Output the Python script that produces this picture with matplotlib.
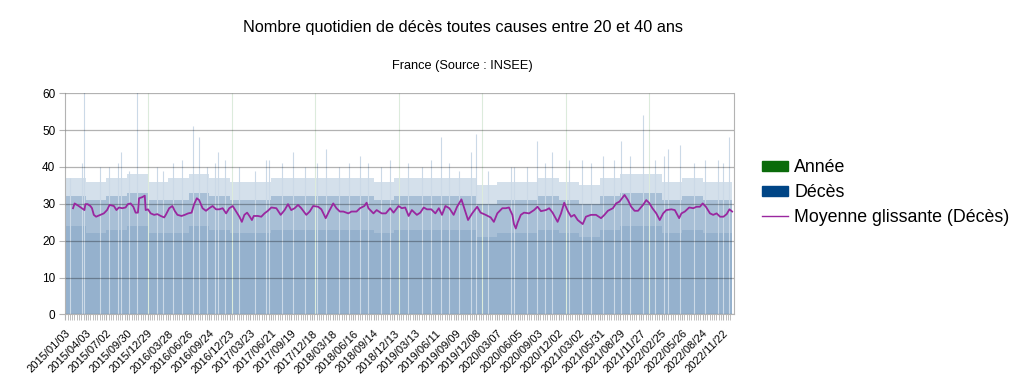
import numpy as np
import matplotlib.pyplot as plt
from matplotlib.patches import Patch
from matplotlib.lines import Line2D

plt.rcParams['font.family'] = ['Liberation Sans', 'DejaVu Sans']

# axe des x : jours depuis le 2015/01/03 (dernier jour 2022/12/31 = 2919)
etiquettes = ['2015/01/03', '2015/04/03', '2015/07/02', '2015/09/30', '2015/12/29',
              '2016/03/28', '2016/06/26', '2016/09/24', '2016/12/23', '2017/03/23',
              '2017/06/21', '2017/09/19', '2017/12/18', '2018/03/18', '2018/06/16',
              '2018/09/14', '2018/12/13', '2019/03/13', '2019/06/11', '2019/09/09',
              '2019/12/08', '2020/03/07', '2020/06/05', '2020/09/03', '2020/12/02',
              '2021/03/02', '2021/05/31', '2021/08/29', '2021/11/27', '2022/02/25',
              '2022/05/26', '2022/08/24', '2022/11/22']
pos_etiquettes = [0, 90, 180, 270, 360, 450, 540, 630, 720, 810, 900, 990, 1080,
                  1170, 1260, 1350, 1440, 1530, 1620, 1710, 1800, 1890, 1980, 2070,
                  2160, 2250, 2340, 2430, 2520, 2610, 2700, 2790, 2880]
dernier_jour = 2919

# serie "Année" : 1er janvier de chaque année
annees_jour = [363, 729, 1094, 1459, 1824, 2190, 2555]

# Décès quotidiens, lus par trimestre (bornes = étiquettes) : zone dense, zone moyenne, sommets
plein = [24, 22, 23, 24, 22, 22, 24, 23, 22, 22, 23, 23, 23, 23, 23, 22, 23,
         23, 23, 23, 21, 22, 22, 23, 22, 21, 23, 24, 24, 22, 23, 22, 22]
milieu = [32, 31, 32, 33, 31, 31, 33, 32, 31, 31, 32, 32, 32, 32, 32, 31, 32,
          32, 32, 32, 30, 31, 31, 32, 31, 30, 32, 33, 33, 31, 32, 31, 31]
haut = [37, 36, 37, 38, 36, 37, 38, 37, 36, 36, 37, 37, 37, 37, 37, 36, 37,
        37, 37, 37, 35, 36, 36, 37, 36, 35, 37, 38, 38, 36, 37, 36, 36]

# pics isolés (jour, décès)
pics_jour = [82, 314, 558, 584, 245, 73, 509, 657, 667, 890, 998, 1142, 1289, 1327,
             878, 1646, 1777, 1796, 1950, 2064, 2203, 2260, 2352, 2431, 2527, 2639,
             2692, 2857, 2904, 191, 1966, 1723,
             20, 150, 230, 280, 400, 430, 470, 620, 700, 760, 830, 950, 1050, 1100,
             1200, 1240, 1380, 1420, 1500, 1560, 1600, 1680, 1850, 2020, 2100, 2130,
             2300, 2400, 2470, 2580, 2620, 2750, 2800, 2880]
pics_val = [66, 63, 51, 48, 44, 41, 42, 41, 44, 42, 44, 45, 43, 41,
            42, 48, 44, 49, 40, 47, 42, 42, 43, 47, 54, 45,
            46, 42, 48, 40, 40, 39,
            37, 40, 41, 39, 40, 39, 41, 40, 42, 40, 39, 41, 40, 41,
            40, 41, 40, 42, 41, 40, 42, 41, 39, 40, 41, 44,
            41, 42, 43, 42, 43, 41, 42, 41]

# moyenne glissante (jour, valeur)
mm_jour = [34, 41, 59, 73, 84, 88, 98, 110, 117, 125, 135, 154, 169, 183, 194, 213,
           224, 235, 249, 264, 274, 286, 298, 308, 318, 323, 337, 348, 352, 362,
           374, 389, 403, 418, 433, 440, 455, 469, 479, 491, 509, 523, 538, 553,
           564, 576, 586, 601, 616, 630, 645, 660, 674, 689, 704, 718, 733, 748,
           762, 773, 784, 796, 806, 817, 825, 843, 858, 872, 887, 902, 924, 943,
           960, 975, 989, 1004, 1019, 1033, 1055, 1070, 1085, 1107, 1121, 1140,
           1154, 1173, 1187, 1202, 1217, 1239, 1253, 1275, 1290, 1309, 1319, 1327,
           1349, 1363, 1385, 1403, 1422, 1437, 1459, 1473, 1488, 1503, 1517, 1539,
           1554, 1569, 1583, 1602, 1620, 1635, 1649, 1664, 1681, 1700, 1715, 1734,
           1749, 1763, 1781, 1803, 1818, 1840, 1862, 1876, 1891, 1913, 1928, 1942,
           1957, 1964, 1972, 1980, 1994, 2008, 2030, 2052, 2067, 2082, 2104, 2118,
           2133, 2155, 2170, 2184, 2199, 2214, 2228, 2243, 2265, 2279, 2301, 2323,
           2345, 2360, 2375, 2397, 2411, 2426, 2448, 2463, 2477, 2492, 2507, 2529,
           2543, 2555, 2570, 2587, 2602, 2617, 2631, 2653, 2668, 2687, 2697, 2712,
           2731, 2749, 2763, 2778, 2790, 2804, 2822, 2836, 2851, 2866, 2881, 2895,
           2907, 2919]
mm_val = [28.8, 30.1, 29.4, 28.8, 28.3, 29.9, 29.9, 29.4, 28.8, 27.0, 26.5, 27.0,
          27.4, 28.3, 29.7, 29.4, 28.3, 29.0, 28.8, 29.0, 29.9, 30.1, 29.2, 27.6,
          27.6, 31.5, 31.8, 32.2, 28.3, 28.5, 27.4, 27.0, 27.2, 26.7, 26.3, 27.0,
          28.8, 29.4, 28.1, 27.0, 26.7, 27.0, 27.4, 27.6, 29.9, 31.5, 31.0, 28.8,
          28.1, 28.8, 29.4, 28.5, 28.5, 28.8, 27.4, 28.8, 29.4, 27.9, 26.5, 25.1,
          27.0, 27.6, 26.7, 25.6, 26.7, 26.7, 26.5, 27.4, 28.1, 29.0, 28.8, 27.0,
          28.3, 29.9, 28.3, 28.8, 29.7, 28.8, 27.0, 27.9, 29.4, 29.2, 28.5, 26.1,
          27.9, 30.1, 28.8, 27.9, 27.9, 27.4, 27.9, 27.9, 28.8, 29.4, 30.3, 28.8,
          27.4, 28.3, 27.4, 27.4, 28.8, 27.6, 29.4, 28.8, 29.0, 26.7, 28.3, 27.0,
          27.6, 29.0, 28.5, 28.5, 27.4, 28.8, 27.0, 29.4, 28.8, 27.0, 29.2, 31.2,
          28.3, 25.6, 27.4, 29.2, 27.6, 27.0, 26.3, 25.1, 27.4, 28.8, 28.8, 29.0,
          27.0, 24.5, 23.3, 24.9, 27.0, 27.6, 27.4, 28.3, 29.2, 28.0, 28.3, 28.8,
          27.6, 25.1, 27.4, 30.3, 28.1, 26.5, 27.0, 25.6, 24.5, 26.5, 27.0, 27.0,
          26.1, 27.0, 28.1, 28.8, 30.1, 30.6, 32.4, 31.0, 29.2, 28.1, 28.1, 29.7,
          31.0, 30.3, 28.8, 27.4, 25.6, 27.4, 28.3, 28.5, 28.3, 26.1, 27.4, 27.9,
          29.0, 28.8, 29.2, 29.2, 30.1, 29.2, 27.4, 27.0, 27.4, 26.5, 26.5, 27.2,
          28.5, 27.9]

bleu = '#004586'
vert = '#0a6b0a'
violet = '#9a279f'

fig = plt.figure(figsize=(10.24, 3.82), dpi=100)
ax = fig.add_axes([0.0635, 0.177, 0.6535, 0.579])

bornes = pos_etiquettes + [dernier_jour + 1]
ax.stairs(plein, bornes, baseline=0, fill=True, color='#95b1cd', lw=0, zorder=1)
ax.stairs(milieu, bornes, baseline=plein, fill=True, color='#a8bfd6', lw=0, zorder=1)
ax.stairs(haut, bornes, baseline=milieu, fill=True, color='#d4e0eb', lw=0, zorder=1)
ax.vlines(pics_jour, 0, pics_val, color='#cbd9e7', lw=0.8, zorder=1)
ax.vlines(annees_jour, 0, 60, color='#dcebdc', lw=0.8, zorder=1)

ax.plot(mm_jour, mm_val, color=violet, lw=1.3, zorder=3)

ax.set_xlim(-1, 2928)
ax.set_ylim(0, 60)
ax.set_yticks(range(0, 61, 10))
ax.yaxis.grid(True, color='black', alpha=0.3, lw=0.9, zorder=2)
ax.set_axisbelow(False)
ax.set_xticks(pos_etiquettes)
ax.set_xticks(range(0, dernier_jour + 1, 10), minor=True)
ax.set_xticklabels(etiquettes, rotation=45, ha='right', rotation_mode='anchor', fontsize=8)
ax.tick_params(axis='x', which='both', length=4, color='#b3b3b3', pad=6)
ax.tick_params(axis='y', length=4, color='#b3b3b3', labelsize=8.5, pad=3)
for s in ['left', 'right', 'bottom']:
    ax.spines[s].set_color('#b3b3b3')
ax.spines['top'].set_visible(False)

fig.text(0.452, 0.927, 'Nombre quotidien de décès toutes causes entre 20 et 40 ans',
         ha='center', va='center', fontsize=11.7)
fig.text(0.452, 0.827, 'France (Source : INSEE)', ha='center', va='center', fontsize=9.2)

poignees = [Patch(color=vert, label='Année'),
            Patch(color=bleu, label='Décès'),
            Line2D([], [], color=violet, lw=1, label='Moyenne glissante (Décès)')]
fig.legend(handles=poignees, loc='upper left', bbox_to_anchor=(0.735, 0.607),
           frameon=False, fontsize=12.8, handlelength=1.5, handleheight=0.5,
           handletextpad=0.35, labelspacing=0.45, borderpad=0)

fig.savefig('out.png', dpi=100)
